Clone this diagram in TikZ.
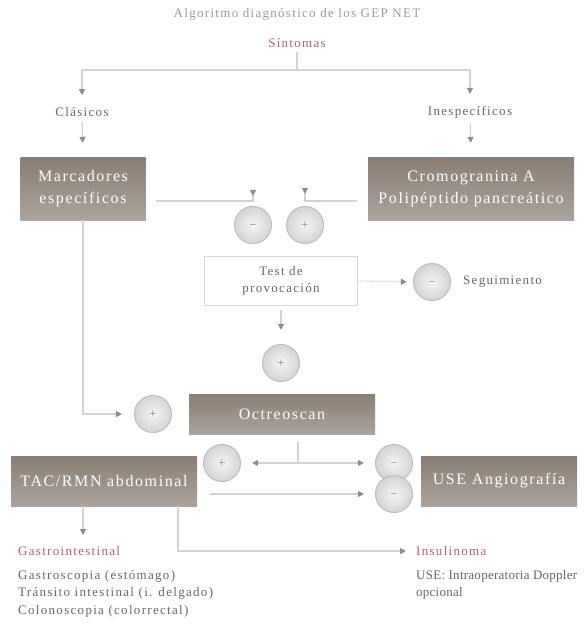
\documentclass[tikz,border=0pt]{standalone}
\usepackage{fontspec}
\setmainfont[LetterSpace=10]{Liberation Serif}
\newfontfamily\narrowserif[LetterSpace=2]{Liberation Serif}
\usetikzlibrary{arrows.meta,calc}
\definecolor{ln}{HTML}{D2D2D2}
\definecolor{ah}{HTML}{8C8C8C}
\definecolor{tx}{HTML}{666666}
\definecolor{rd}{HTML}{B0606E}
\definecolor{btop}{HTML}{887E76}
\definecolor{bbot}{HTML}{ABA39C}
\tikzset{
  box/.style={rectangle, top color=btop, bottom color=bbot, draw=none, text=white,
    font=\fontsize{16}{22}\selectfont, align=center, inner sep=0pt},
  lbl/.style={text=tx, font=\fontsize{13}{17.5}\selectfont, inner sep=0pt},
  redlbl/.style={text=rd, font=\fontsize{13}{17.5}\selectfont, inner sep=0pt},
  ball/.style={circle, minimum size=37pt, inner sep=0pt, inner color=white!92!gray,
    outer color=gray!34, draw=gray!50, line width=1.1pt, text=black!70,
    font=\fontsize{10}{10}\selectfont},
  line/.style={draw=ln, line width=1.2pt},
  arr/.style={line, -{Triangle[length=6pt,width=6pt,color=ah]}},
}
\begin{document}
\begin{tikzpicture}[x=1pt,y=-1pt]
\useasboundingbox (0,0) rectangle (585,629);
% texts
\node[lbl, text=gray!80] (title) at (297,14) {Algoritmo diagnóstico de los GEP NET};
\node[redlbl] (sint) at (297,43) {Síntomas};
\node[lbl] (clas) at (82,112) {Clásicos};
\node[lbl] (ines) at (470,112) {Inespecíficos};
% boxes
\node[box, minimum width=125pt, minimum height=63pt] (marc) at (83,188.5) {Marcadores\\específicos};
\node[box, minimum width=206pt, minimum height=63pt] (cromo) at (471,188.5) {Cromogranina A\\Polipéptido pancreático};
\node[rectangle, draw=gray!30, line width=1pt, minimum width=153pt, minimum height=49pt,
  align=center, text=tx, font=\fontsize{13}{17.5}\selectfont, inner sep=0pt] (test) at (281,281) {Test de\\provocación};
\node[box, minimum width=186pt, minimum height=40pt] (oct) at (282,414) {Octreoscan};
\node[box, minimum width=186pt, minimum height=50pt] (tac) at (104,481) {TAC/RMN abdominal};
\node[box, minimum width=156pt, minimum height=50pt] (use) at (499,481) {USE Angiografía};
% balls
\node[ball] (c1) at (253,225) {$-$};
\node[ball] (c2) at (305,225) {$+$};
\node[ball] (cs) at (432,282) {$-$};
\node[ball] (c3) at (281,363) {$+$};
\node[ball] (c4) at (153,414) {$+$};
\node[ball] (c5) at (222,463) {$+$};
\node[ball] (c6) at (394,463) {$-$};
\node[ball] (c7) at (394,494) {$-$};
\node[lbl, anchor=west] (seg) at (463,282) {Seguimiento};
% bottom texts
\node[redlbl, anchor=west] (gi) at (18,551) {Gastrointestinal};
\node[lbl, anchor=north west, align=left] (gil) at (18,570) {Gastroscopia (estómago)\\Tránsito intestinal (i. delgado)\\Colonoscopia (colorrectal)};
\node[redlbl, anchor=west] (ins) at (416,551) {Insulinoma};
\node[lbl, anchor=north west, align=left, font=\narrowserif\fontsize{13}{17.5}\selectfont] (insl) at (416,570) {USE: Intraoperatoria Doppler\\opcional};
% connectors
\coordinate (j0) at (297,70);
\draw[line, shorten <=4pt] (sint.south) -- (j0);
\draw[arr, shorten >=12pt] (j0) -| (clas.north);
\draw[arr, shorten >=12pt] (j0) -| (ines.north);
\draw[arr, shorten <=5pt, shorten >=14pt] (clas.south) -- (marc.north);
\draw[arr, shorten <=5pt, shorten >=14pt] (ines.south) -- (cromo.north);
\draw[arr, shorten >=10pt] ([xshift=10pt,yshift=-12.5pt]marc.east) -| (c1.north);
\draw[arr, shorten >=12pt] ([xshift=-11pt,yshift=-12.5pt]cromo.west) -| (c2.north);
\draw[arr, densely dotted, shorten >=6pt] (test.east) -- (cs.west);
\draw[arr, shorten <=4pt, shorten >=14pt] (test.south) -- (c3.north);
\draw[arr, shorten >=12pt] (marc.south) |- (c4.west);
\coordinate (oj) at ($(oct.south)+(16,0)$);
\coordinate (oj2) at (oj |- c5);
\draw[line, shorten <=8pt] (oj) -- (oj2);
\draw[arr, shorten >=11pt] (oj2) -- (c5.east);
\draw[arr, shorten >=11pt] (oj2) -- (c6.west);
\coordinate (t1) at ([xshift=13pt]tac.east);
\draw[arr, shorten >=11pt] (t1 |- c7) -- (c7.west);
\coordinate (t2) at ([xshift=-21pt]tac.south);
\draw[arr, shorten >=16pt] (t2) -- (t2 |- gi);
\coordinate (t3) at ([xshift=74pt]tac.south);
\draw[arr, shorten >=10pt] (t3) |- (ins.west);
\end{tikzpicture}
\end{document}
